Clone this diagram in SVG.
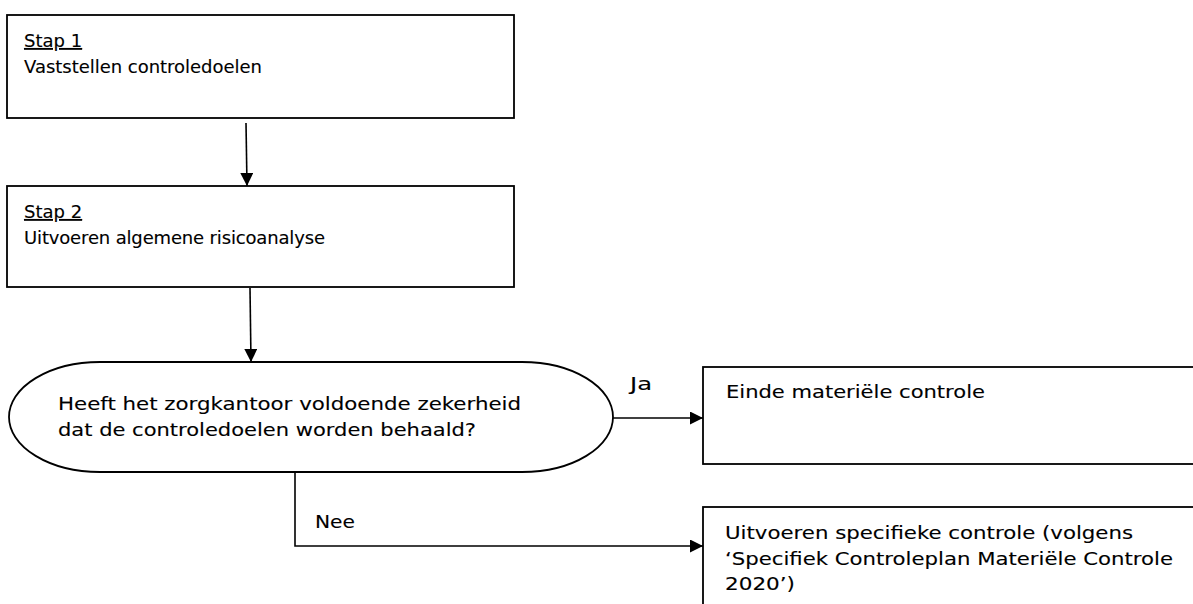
<svg xmlns="http://www.w3.org/2000/svg" width="1193" height="604" viewBox="0 0 1193 604">
<style>
.box{fill:#fff;stroke:#000;stroke-width:1.8}
.t{font-family:"DejaVu Sans",Verdana,sans-serif;font-size:18px;fill:#000;stroke:#000;stroke-width:0.12}
.u{text-decoration:underline}
.c{fill:none;stroke:#000;stroke-width:1.6}
</style>
<defs>
<marker id="ah" markerWidth="13" markerHeight="13" refX="13" refY="6.5" orient="auto" markerUnits="userSpaceOnUse">
<path d="M0,0 L13,6.5 L0,13 Z" fill="#000"/>
</marker>
</defs>
<rect width="1193" height="604" fill="#fff"/>
<g id="step1">
<rect class="box" x="7" y="15" width="507" height="103"/>
<text class="t u" x="24" y="47">Stap 1</text>
<text class="t" x="24" y="73" textLength="238">Vaststellen controledoelen</text>
</g>
<g id="step2">
<rect class="box" x="7" y="186" width="507" height="101"/>
<text class="t u" x="24" y="218">Stap 2</text>
<text class="t" x="24" y="244" textLength="301">Uitvoeren algemene risicoanalyse</text>
</g>
<g id="decision">
<rect class="box" x="9" y="362" width="604" height="110" rx="91" ry="55"/>
<text class="t" x="58" y="410" textLength="463" lengthAdjust="spacingAndGlyphs">Heeft het zorgkantoor voldoende zekerheid</text>
<text class="t" x="58" y="436" textLength="418" lengthAdjust="spacingAndGlyphs">dat de controledoelen worden behaald?</text>
</g>
<g id="end">
<rect class="box" x="703" y="367" width="500" height="97"/>
<text class="t" x="726" y="398" textLength="259" lengthAdjust="spacingAndGlyphs">Einde materiële controle</text>
</g>
<g id="specific">
<rect class="box" x="703" y="507" width="500" height="110"/>
<text class="t" x="725" y="539" textLength="408" lengthAdjust="spacingAndGlyphs">Uitvoeren specifieke controle (volgens</text>
<text class="t" x="725" y="565" textLength="448" lengthAdjust="spacingAndGlyphs">‘Specifiek Controleplan Materiële Controle</text>
<text class="t" x="725" y="590" textLength="70" lengthAdjust="spacingAndGlyphs">2020’)</text>
</g>
<g id="connectors">
<path class="c" d="M246,123 L247,186" marker-end="url(#ah)"/>
<path class="c" d="M250,288 L251,362" marker-end="url(#ah)"/>
<path class="c" d="M613,418 L703,418" marker-end="url(#ah)"/>
<path class="c" d="M295,472 L295,546 L703,546" marker-end="url(#ah)"/>
<text class="t" x="630" y="390" textLength="22" lengthAdjust="spacingAndGlyphs">Ja</text>
<text class="t" x="315" y="528" textLength="40" lengthAdjust="spacingAndGlyphs">Nee</text>
</g>
</svg>
